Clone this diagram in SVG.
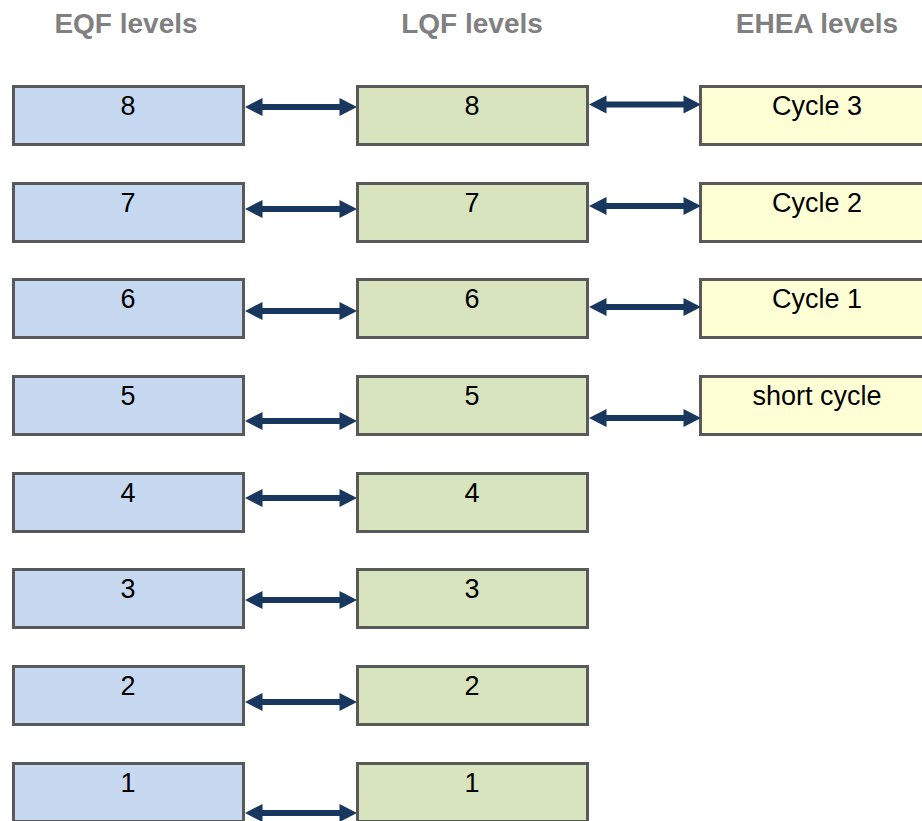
<svg xmlns="http://www.w3.org/2000/svg" xmlns:xlink="http://www.w3.org/1999/xlink" width="922" height="821" viewBox="0 0 922 821">
<style>
.hdr{font-family:"Liberation Sans",Arial,sans-serif;font-weight:bold;font-size:28px;fill:#808080;text-anchor:middle}
.lbl{font-family:"Liberation Sans",Arial,sans-serif;font-size:27px;fill:#000;text-anchor:middle}
.box{stroke:#595959;stroke-width:3}
.eqf{fill:#C6D9F1}
.lqf{fill:#D7E4BD}
.ehea{fill:#FFFFD5}
.arr{fill:#17375E}
</style>
<defs>
<path id="dbl" d="M0,0 L17.5,-9 L17.5,-3 L94.5,-3 L94.5,-9 L112,0 L94.5,9 L94.5,3 L17.5,3 L17.5,9 Z"/>
</defs>
<g id="headers">
<text class="hdr" x="126" y="33">EQF levels</text>
<text class="hdr" x="472" y="33">LQF levels</text>
<text class="hdr" x="817" y="33">EHEA levels</text>
</g>
<g id="eqf8"><rect class="box eqf" x="13.5" y="86.5" width="230" height="58"/><text class="lbl" x="128" y="115">8</text></g>
<g id="eqf7"><rect class="box eqf" x="13.5" y="183.5" width="230" height="58"/><text class="lbl" x="128" y="212">7</text></g>
<g id="eqf6"><rect class="box eqf" x="13.5" y="279.5" width="230" height="58"/><text class="lbl" x="128" y="308">6</text></g>
<g id="eqf5"><rect class="box eqf" x="13.5" y="376.5" width="230" height="58"/><text class="lbl" x="128" y="405">5</text></g>
<g id="eqf4"><rect class="box eqf" x="13.5" y="473.5" width="230" height="58"/><text class="lbl" x="128" y="502">4</text></g>
<g id="eqf3"><rect class="box eqf" x="13.5" y="569.5" width="230" height="58"/><text class="lbl" x="128" y="598">3</text></g>
<g id="eqf2"><rect class="box eqf" x="13.5" y="666.5" width="230" height="58"/><text class="lbl" x="128" y="695">2</text></g>
<g id="eqf1"><rect class="box eqf" x="13.5" y="763.5" width="230" height="58"/><text class="lbl" x="128" y="792">1</text></g>
<g id="lqf8"><rect class="box lqf" x="357.5" y="86.5" width="230" height="58"/><text class="lbl" x="472" y="115">8</text></g>
<g id="lqf7"><rect class="box lqf" x="357.5" y="183.5" width="230" height="58"/><text class="lbl" x="472" y="212">7</text></g>
<g id="lqf6"><rect class="box lqf" x="357.5" y="279.5" width="230" height="58"/><text class="lbl" x="472" y="308">6</text></g>
<g id="lqf5"><rect class="box lqf" x="357.5" y="376.5" width="230" height="58"/><text class="lbl" x="472" y="405">5</text></g>
<g id="lqf4"><rect class="box lqf" x="357.5" y="473.5" width="230" height="58"/><text class="lbl" x="472" y="502">4</text></g>
<g id="lqf3"><rect class="box lqf" x="357.5" y="569.5" width="230" height="58"/><text class="lbl" x="472" y="598">3</text></g>
<g id="lqf2"><rect class="box lqf" x="357.5" y="666.5" width="230" height="58"/><text class="lbl" x="472" y="695">2</text></g>
<g id="lqf1"><rect class="box lqf" x="357.5" y="763.5" width="230" height="58"/><text class="lbl" x="472" y="792">1</text></g>
<g id="ehea3"><rect class="box ehea" x="700.5" y="86.5" width="230" height="58"/><text class="lbl" x="817" y="115">Cycle 3</text></g>
<g id="ehea2"><rect class="box ehea" x="700.5" y="183.5" width="230" height="58"/><text class="lbl" x="817" y="212">Cycle 2</text></g>
<g id="ehea1"><rect class="box ehea" x="700.5" y="279.5" width="230" height="58"/><text class="lbl" x="817" y="308">Cycle 1</text></g>
<g id="eheas"><rect class="box ehea" x="700.5" y="376.5" width="230" height="58"/><text class="lbl" x="817" y="405">short cycle</text></g>
<g id="connectors" class="arr">
<use xlink:href="#dbl" href="#dbl" x="245" y="107"/>
<use xlink:href="#dbl" href="#dbl" x="245" y="209"/>
<use xlink:href="#dbl" href="#dbl" x="245" y="311"/>
<use xlink:href="#dbl" href="#dbl" x="245" y="421"/>
<use xlink:href="#dbl" href="#dbl" x="245" y="498"/>
<use xlink:href="#dbl" href="#dbl" x="245" y="600"/>
<use xlink:href="#dbl" href="#dbl" x="245" y="702"/>
<use xlink:href="#dbl" href="#dbl" x="245" y="813"/>
<use xlink:href="#dbl" href="#dbl" x="589" y="104.5"/>
<use xlink:href="#dbl" href="#dbl" x="589" y="206"/>
<use xlink:href="#dbl" href="#dbl" x="589" y="307"/>
<use xlink:href="#dbl" href="#dbl" x="589" y="418"/>
</g>
</svg>
